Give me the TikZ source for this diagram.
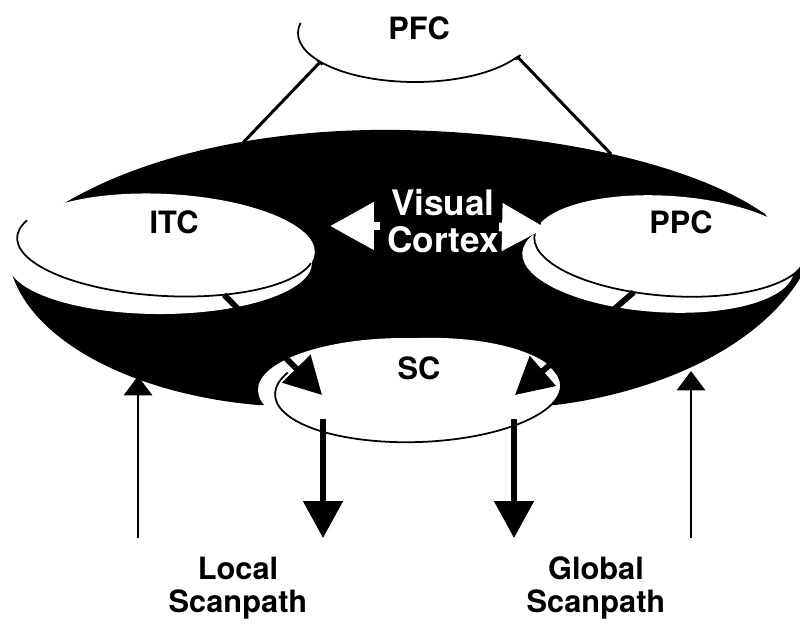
\documentclass[tikz,border=0pt]{standalone}
\usepackage{fontspec}
\setmainfont{TeX Gyre Heros}
\usetikzlibrary{arrows.meta}

\begin{document}
\begin{tikzpicture}[x=0.02cm,y=-0.02cm]
        \tikzstyle{every node}+=[inner sep=0pt]
        \tikzstyle{rim}=[black,line width=1pt]
        \tikzstyle{lbl}=[anchor=base,font=\bfseries\fontsize{17.5}{19}\selectfont]
        \tikzstyle{cortex}=[white,align=center,font=\bfseries\fontsize{20}{21.5}\selectfont]
        \tikzstyle{scan}=[align=center,font=\bfseries\fontsize{17.5}{18.7}\selectfont]
        \tikzstyle{wharrow}=[white,line width=5pt,-{Triangle[width=26pt,length=25pt]}]
        \tikzstyle{bigarrow}=[black,line width=3.3pt,-{Triangle[width=22pt,length=21pt]}]
        \tikzstyle{thinarrow}=[black,line width=1.5pt,-{Triangle[width=16pt,length=11pt]}]
        \tikzstyle{link}=[black,line width=1.7pt,arrows={Bar[width=4pt,line width=1pt]-}]
        \useasboundingbox (0,0) rectangle (800,623);
        \clip (0,0) rectangle (800,623);
        \path (415,33) ++(144:117 and 49) coordinate (pfc-l);
        \path (415,33) ++(29:117 and 49) coordinate (pfc-r);
        \coordinate (itc-top) at (236,150);
        \coordinate (ppc-top) at (611,154);
        \coordinate (vc-l) at (380,226);
        \coordinate (vc-ltip) at (330,226);
        \coordinate (vc-r) at (499,227);
        \coordinate (vc-rtip) at (546,228);
        \coordinate (sc-ltip) at (322,395);
        \coordinate (sc-rtip) at (515,395);
        \coordinate (sc-lout) at (323,419);
        \coordinate (sc-rout) at (514,419);
        \coordinate (local-tip) at (323,538);
        \coordinate (global-tip) at (514,538);
        \coordinate (local-in) at (138,538);
        \coordinate (itc-in) at (138,376);
        \coordinate (global-in) at (691,538);
        \coordinate (ppc-in) at (691,371);
        \draw [link] (pfc-l) -- (itc-top);
        \draw [link] (pfc-r) -- (ppc-top);
        \fill [black] (58,207) .. controls (150,150) and (280,128) .. (400,130)
                .. controls (520,132) and (680,155) .. (765,214) -- (806,268)
                .. controls (760,355) and (640,395) .. (555,405) -- (258,405)
                .. controls (140,395) and (35,345) .. (12,274) -- cycle;
        \fill [white] (160,263) ellipse [x radius=152, y radius=51];
        \fill [white, rotate around={-4:(658,262)}] (658,262) ellipse [x radius=136, y radius=50];
        \fill [white] (405,390) ellipse [x radius=147, y radius=52];
        \begin{scope}[rotate around={-3:(166,245)}]
                \fill [white] (166,245) ellipse [x radius=149, y radius=51];
                \draw [rim] (166,245) ++(200:149 and 51) arc [start angle=200, end angle=12, x radius=149, y radius=51];
                \path (166,245) ++(66:149 and 51) coordinate (itc-out);
        \end{scope}
        \begin{scope}[rotate around={-4:(670,246)}]
                \fill [white] (670,246) ellipse [x radius=136, y radius=50];
                \draw [rim] (670,246) ++(196:136 and 50) arc [start angle=196, end angle=-5, x radius=136, y radius=50];
                \path (670,246) ++(104:136 and 50) coordinate (ppc-out);
        \end{scope}
        \begin{scope}[rotate around={2:(418,390)}]
                \fill [white] (418,390) ellipse [x radius=143, y radius=52];
                \draw [rim] (418,390) ++(205:143 and 52) arc [start angle=205, end angle=-25, x radius=143, y radius=52];
        \end{scope}
        \draw [rim] (415,33) ++(192:117 and 49) arc [start angle=192, end angle=28, x radius=117, y radius=49];
        \draw [wharrow] (vc-l) -- (vc-ltip);
        \draw [wharrow] (vc-r) -- (vc-rtip);
        \draw [bigarrow] (itc-out) -- (sc-ltip);
        \draw [bigarrow] (ppc-out) -- (sc-rtip);
        \draw [bigarrow] (sc-lout) -- (local-tip);
        \draw [bigarrow] (sc-rout) -- (global-tip);
        \draw [thinarrow] (local-in) -- (itc-in);
        \draw [thinarrow] (global-in) -- (ppc-in);
        \node [lbl] (pfc) at (419,39) {PFC};
        \node [lbl] (itc) at (174,233) {ITC};
        \node [lbl] (ppc) at (681,233) {PPC};
        \node [lbl] (sc) at (419,379) {SC};
        \node [cortex] (vc) at (443,221) {Visual\\Cortex};
        \node [scan] (local) at (238,588) {Local\\Scanpath};
        \node [scan] (global) at (596,588) {Global\\Scanpath};
\end{tikzpicture}
\end{document}
